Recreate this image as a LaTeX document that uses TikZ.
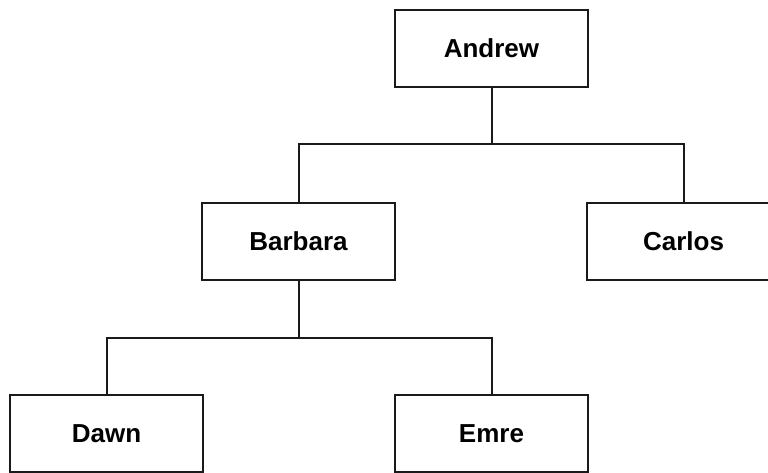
\documentclass[tikz,border=0pt]{standalone}
\usepackage{fontspec}
\setmainfont{Liberation Sans}
\usetikzlibrary{positioning}
\definecolor{boxline}{HTML}{1A1A1A}

\begin{document}
\begin{tikzpicture}[x=1pt, y=1pt, line width=2pt]
    \useasboundingbox (0,0) rectangle (768,-472);
    \tikzset{person/.style={rectangle, draw=boxline, fill=white, outer sep=0pt, minimum width=193pt, minimum height=77pt, align=center, font=\fontsize{26}{30}\selectfont\bfseries}}
    % Nodes
    \node (andrew) [person] at (491.5,-48.5) {Andrew};
    \node (barbara) [person, below left=116pt and 0pt of andrew] {Barbara};
    \node (carlos) [person, below right=116pt and -1pt of andrew] {Carlos};
    \node (dawn) [person, below left=115pt and -1pt of barbara] {Dawn};
    \node (emre) [person, below right=115pt and 0pt of barbara] {Emre};

    % Connectors
    \draw [boxline] (andrew.south) -- +(0,-57) -| (barbara.north);
    \draw [boxline] (andrew.south) -- +(0,-57) -| (carlos.north);
    \draw [boxline] (barbara.south) -- +(0,-58) -| (dawn.north);
    \draw [boxline] (barbara.south) -- +(0,-58) -| (emre.north);
\end{tikzpicture}
\end{document}
